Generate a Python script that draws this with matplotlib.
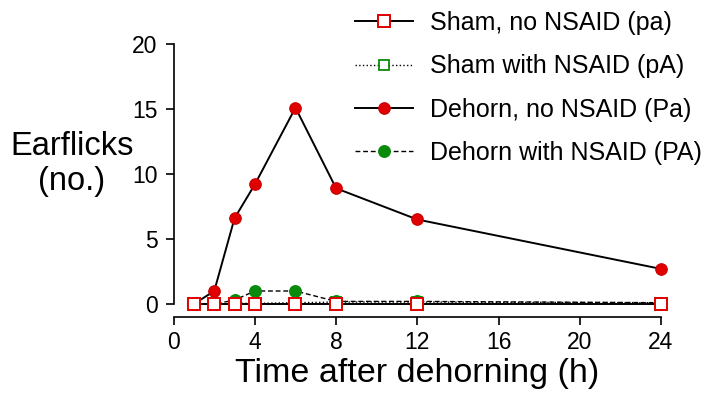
import numpy as np
import matplotlib.pyplot as plt

plt.rcParams['font.family'] = ['Liberation Sans', 'DejaVu Sans']

# hours after dehorning
hours = [1, 2, 3, 4, 6, 8, 12, 24]

# mean earflicks per group
sham_no = [0, 0, 0, 0, 0, 0, 0, 0]
sham_nsaid = [0, 0, 0.05, 0.05, 0.1, 0.15, 0.15, 0.1]
dehorn_no = [0, 1.0, 6.6, 9.2, 15.1, 8.9, 6.5, 2.7]
dehorn_nsaid = [0, 0, 0.3, 1.0, 1.0, 0.2, 0.2, 0.1]

red = '#e00000'
green = '#0a8a0a'

fig = plt.figure(figsize=(7.22, 3.94), dpi=100)
ax = fig.add_axes([0.2405, 0.2284, 0.6750, 0.6600])

h2, = ax.plot(hours, sham_nsaid, color='black', lw=1.0, ls=':',
              marker='s', ms=7.5, mfc='white', mec=green, mew=1.3,
              clip_on=False, zorder=3, label='Sham with NSAID (pA)')
h4, = ax.plot(hours, dehorn_nsaid, color='black', lw=1.0, ls=(0, (3.5, 2)),
              marker='o', ms=8.3, mfc=green, mec=green,
              clip_on=False, zorder=4, label='Dehorn with NSAID (PA)')
h3, = ax.plot(hours, dehorn_no, color='black', lw=1.4,
              marker='o', ms=8.3, mfc=red, mec='#c80000', mew=0.8,
              clip_on=False, zorder=5, label='Dehorn, no NSAID (Pa)')
h1, = ax.plot(hours, sham_no, color='black', lw=1.4,
              marker='s', ms=8, mfc='white', mec=red, mew=1.4,
              clip_on=False, zorder=6, label='Sham, no NSAID (pa)')

ax.set_xlim(0, 24)
ax.set_ylim(0, 20)
ax.set_xticks([0, 4, 8, 12, 16, 20, 24])
ax.set_yticks([0, 5, 10, 15, 20])
ax.tick_params(labelsize=16.5, length=5.5, width=1.2, direction='out')
ax.tick_params(axis='y', pad=6)
ax.tick_params(axis='x', pad=5)

ax.spines['top'].set_visible(False)
ax.spines['right'].set_visible(False)
ax.spines['bottom'].set_position(('outward', 9))
for s in ['left', 'bottom']:
    ax.spines[s].set_linewidth(1.2)

ax.set_xlabel('Time after dehorning (h)', fontsize=24.5, labelpad=3)
fig.text(0.0997, 0.584, 'Earflicks\n(no.)', fontsize=23.5, ha='center',
         va='center', linespacing=1.15)

leg = fig.legend(handles=[h1, h2, h3, h4], loc='upper left',
                 bbox_to_anchor=(0.4917, 0.972), frameon=False, fontsize=18,
                 handlelength=2.3, handletextpad=0.68, labelspacing=0.77,
                 borderpad=0, borderaxespad=0)

fig.savefig('out.png', dpi=100)
